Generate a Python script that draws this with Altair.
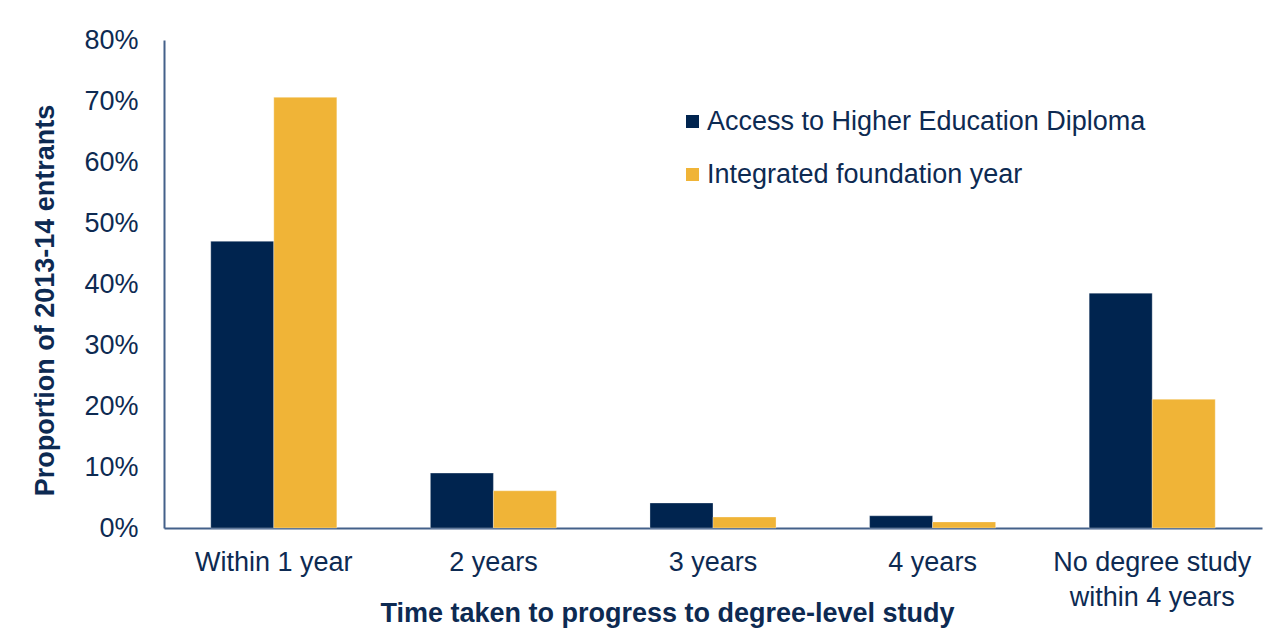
import altair as alt
import pandas as pd

categories = ["Within 1 year", "2 years", "3 years", "4 years", "No degree study within 4 years"]
series = ["Access to Higher Education Diploma", "Integrated foundation year"]
access_vals = [47.0, 9.0, 4.1, 2.0, 38.5]
ify_vals = [70.6, 6.1, 1.8, 1.0, 21.1]

rows = []
for c, a, f in zip(categories, access_vals, ify_vals):
    rows.append({"cat": c, "series": series[0], "value": a / 100})
    rows.append({"cat": c, "series": series[1], "value": f / 100})
df = pd.DataFrame(rows)

navy = "#00244f"
gold = "#f0b437"
txt = "#0d2a52"
font = "Liberation Sans"
fs = 27

chart = alt.Chart(df).mark_bar(stroke="white", strokeWidth=0.5, strokeOpacity=0.6).encode(
    x=alt.X("cat:N", sort=categories, title="Time taken to progress to degree-level study",
            scale=alt.Scale(paddingInner=0.426, paddingOuter=0.213),
            axis=alt.Axis(labelAngle=0, ticks=False, domainColor="#44618a", domainWidth=2,
                          labelFontSize=fs, labelColor=txt, labelFont=font, labelPadding=21,
                          labelLineHeight=35, labelLimit=400,
                          labelExpr="datum.label == 'No degree study within 4 years' ? ['No degree study', 'within 4 years'] : datum.label",
                          titleFontSize=fs, titleFont=font, titleFontWeight="bold", titleColor=txt,
                          titleX=503, titleY=85, titleBaseline="middle", titleAlign="center")),
    xOffset=alt.XOffset("series:N", sort=series),
    y=alt.Y("value:Q", title="Proportion of 2013-14 entrants",
            scale=alt.Scale(domain=[0, 0.8]),
            axis=alt.Axis(format=".0%", values=[0, 0.1, 0.2, 0.3, 0.4, 0.5, 0.6, 0.7, 0.8],
                          ticks=False, grid=False, domainColor="#44618a", domainWidth=2,
                          labelFontSize=fs, labelColor=txt, labelFont=font, labelPadding=26,
                          titleFontSize=fs, titleFont=font, titleFontWeight="bold", titleColor=txt,
                          titleX=-119, titleY=260, titleAngle=-90, titleBaseline="middle",
                          titleAlign="center")),
    color=alt.Color("series:N", sort=series, scale=alt.Scale(domain=series, range=[navy, gold]),
                    legend=alt.Legend(title=None, orient="none", legendX=515, legendY=68,
                                      symbolType="square", symbolSize=170, symbolStrokeWidth=0,
                                      labelFontSize=fs, labelFont=font, labelColor=txt,
                                      labelOffset=1, rowPadding=25, labelLimit=700)),
).properties(
    width=1098, height=488,
    autosize=alt.AutoSizeParams(type="none"),
    padding={"left": 156, "top": 32, "right": 4, "bottom": 100},
).configure(background="white").configure_view(strokeWidth=0, stroke=None)

chart.save("out.html", embed_options={"renderer": "svg", "actions": False})
